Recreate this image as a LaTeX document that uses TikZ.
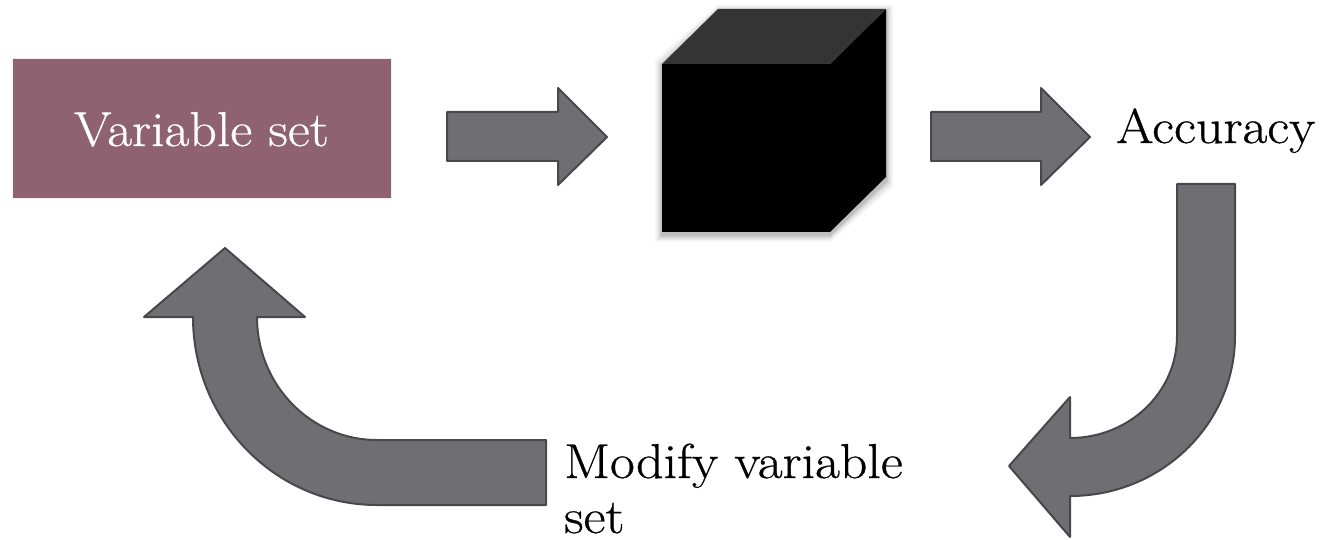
\documentclass[tikz,border=0pt]{standalone}
\usepackage{fontspec}
\newfontfamily\diagfont{Latin Modern Roman}[FakeStretch=1.1, FakeBold=0.6]
\begin{document}
\definecolor{boxmauve}{RGB}{142,98,112}
\definecolor{arrowfill}{RGB}{111,110,115}
\definecolor{arrowline}{RGB}{72,71,75}
\definecolor{cubetop}{RGB}{52,52,52}
\tikzset{
  blockarrow/.style={fill=arrowfill, draw=arrowline, line width=2pt, line join=round},
  bigtext/.style={font=\diagfont\fontsize{49}{59}\selectfont, inner sep=0pt, align=left},
}
\begin{tikzpicture}[x=1pt,y=-1pt]
\useasboundingbox (0,0) rectangle (1323,540);
% Variable set box
\path[fill=boxmauve, draw=gray!12, line width=0.8pt] (12,58) rectangle (391,198);
\node[bigtext, text=white, anchor=base] (varset) at (201.5,146) {Variable set};
% straight arrows
\draw[blockarrow] (447,112) -- (558,112) -- (558,88) -- (607,137) -- (558,185) -- (558,161) -- (447,161) -- cycle;
\draw[blockarrow] (931,112) -- (1041,112) -- (1041,88) -- (1090,137) -- (1041,185) -- (1041,161) -- (931,161) -- cycle;
% cube shadow
\foreach \d/\o in {7/0.04,5/0.06,3/0.08,1.5/0.1}{
  \fill[black, opacity=\o] (662-\d,64+3-\d) -- (718,9+3-\d) -- (886+\d,9+3-\d) -- (886+\d,177+3+\d) -- (830,232+3+\d) -- (662-\d,232+3+\d) -- cycle;
}
% cube
\fill[black] (662,64) rectangle (830,232);
\fill[black] (830,64) -- (886,9) -- (886,177) -- (830,232) -- cycle;
\fill[cubetop] (662,64) -- (718,9) -- (886,9) -- (830,64) -- cycle;
\coordinate (cube) at (774,120);
% Accuracy
\node[bigtext, anchor=base west] (acc) at (1116,143) {Accuracy};
% right curved arrow
\draw[blockarrow] (1177,184) -- (1235,184) -- (1235,336)
  arc[start angle=0, end angle=-90, x radius=165pt, y radius=160pt]
  -- (1070,537) -- (1009,466) -- (1070,397) -- (1070,438)
  arc[start angle=-90, end angle=0, x radius=107pt, y radius=102pt]
  -- cycle;
% Modify variable set
\node[bigtext, anchor=base west] (modify) at (564,478) {Modify variable};
\node[bigtext, anchor=base west] (modifyset) at (564,533) {set};
% left curved arrow
\draw[blockarrow] (546,440) -- (377,440)
  arc[start angle=-90, end angle=-180, x radius=120pt, y radius=123pt]
  -- (305,317) -- (225,248) -- (144,317) -- (193,317)
  arc[start angle=180, end angle=270, x radius=184pt, y radius=188pt]
  -- (546,505) -- cycle;
\end{tikzpicture}
\end{document}
